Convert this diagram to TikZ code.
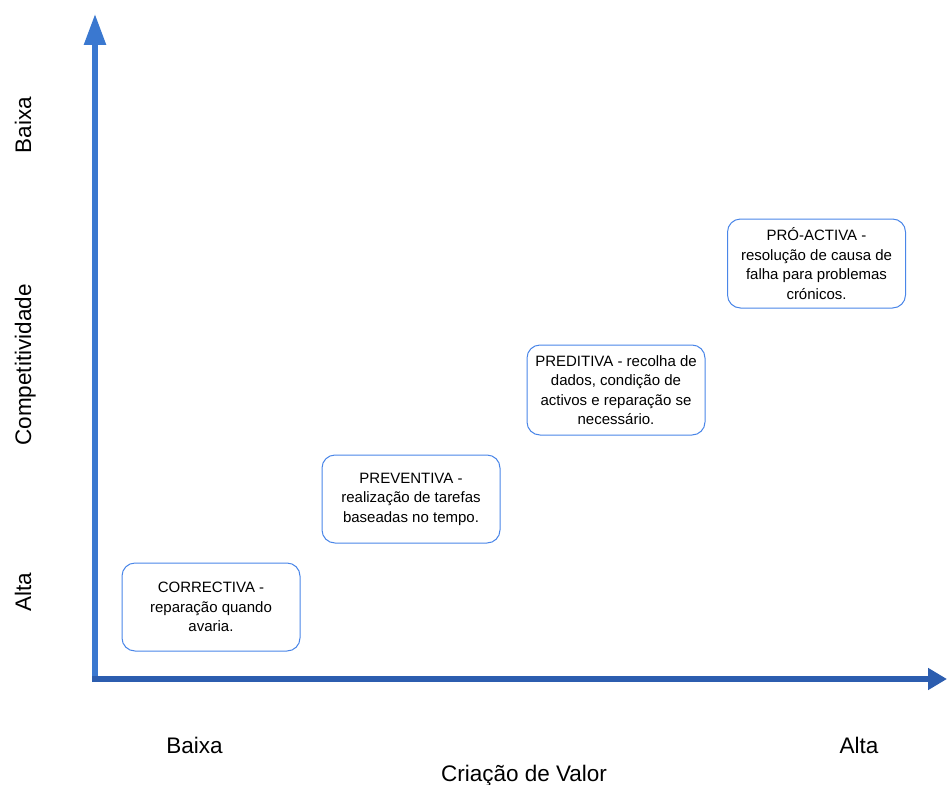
\documentclass[tikz,border=0pt]{standalone}
\usepackage{fontspec}
\setmainfont{Liberation Sans}
\usetikzlibrary{arrows.meta}
\definecolor{vaxis}{RGB}{58,120,208}
\definecolor{haxis}{RGB}{44,93,175}
\definecolor{boxline}{RGB}{74,134,232}
\begin{document}
\begin{tikzpicture}[x=1pt,y=-1pt,
  stage/.style={draw=boxline,line width=1pt,rounded corners=13pt,fill=white,
    minimum width=178pt,minimum height=88pt,align=center,
    font=\fontsize{15}{19.5}\selectfont,inner sep=0pt},
  axislabel/.style={font=\fontsize{22.5}{25}\selectfont,inner sep=0pt},
  axisline/.style={line width=5.5pt}]
\useasboundingbox (0,0) rectangle (947,784);

% axes
\coordinate (vbot) at (95,682);
\coordinate (vtop) at (95,14);
\coordinate (hleft) at (92,679);
\coordinate (hright) at (947,679);
\draw[axisline,vaxis,-{Triangle[width=21pt,length=31pt]}] (vbot) -- (vtop);
\draw[axisline,haxis,-{Triangle[width=21pt,length=19pt]}] (hleft) -- (hright);

% stages
\node[stage] (corr) at (211,607) {CORRECTIVA -\\reparação quando\\avaria.};
\node[stage] (prev) at (411,499) {PREVENTIVA -\\realização de tarefas\\baseadas no tempo.};
\node[stage,minimum height=90pt] (pred) at (616,390) {PREDITIVA - recolha de\\dados, condição de\\activos e reparação se\\necessário.};
\node[stage,minimum height=89pt] (proa) at (816.5,263.5) {PRÓ-ACTIVA -\\resolução de causa de\\falha para problemas\\crónicos.};

% horizontal axis labels
\node[axislabel,anchor=base] (xlow) at (194.5,753) {Baixa};
\node[axislabel,anchor=base] (xhigh) at (859,753) {Alta};
\node[axislabel,anchor=base] (xname) at (524,781) {Criação de Valor};

% vertical axis labels
\node[axislabel,anchor=base,rotate=90] (ylow) at (31,125) {Baixa};
\node[axislabel,anchor=base,rotate=90] (yname) at (31,365) {Competitividade};
\node[axislabel,anchor=base,rotate=90] (yhigh) at (31,592) {Alta};
\end{tikzpicture}
\end{document}
